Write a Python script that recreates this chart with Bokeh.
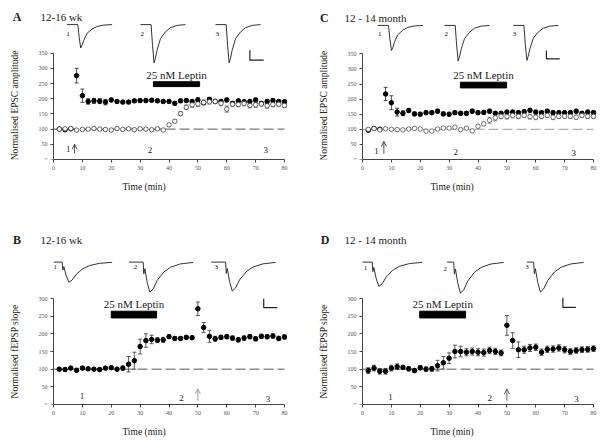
import numpy as np
from bokeh.plotting import figure
from bokeh.models import (ColumnDataSource, Whisker, TeeHead, Label, Arrow,
                          OpenHead, SingleIntervalTicker)
from bokeh.layouts import column, row
from bokeh.embed import file_html
from bokeh.resources import INLINE

SERIF = "Liberation Serif"

# ---------------- data ----------------
time_min = list(range(2, 82, 2))

# Panel A (12-16 wk, EPSC amplitude)
a_ltp = [100, 98, 101, 276, 210, 191, 193, 192, 189, 196, 191, 189, 189, 193, 194, 194, 195, 193, 191, 191,
         185, 193, 194, 191, 196, 187, 198, 191, 191, 196, 185, 193, 190, 191, 196, 185, 191, 194, 191, 190]
a_ltp_err = [3, 3, 3, 24, 22, 9, 8, 8, 9, 6, 5, 5, 5, 5, 5, 5, 5, 5, 5, 5,
             6, 5, 5, 5, 7, 5, 6, 5, 5, 6, 5, 5, 5, 5, 6, 5, 5, 5, 5, 5]
a_lep = [100, 101, 102, 97, 99, 100, 102, 100, 99, 97, 102, 99, 101, 98, 101, 100, 98, 101, 97,
         114, 126, 151, 172, 180, 183, 188, 190, 191, 185, 166, 182, 181, 184, 178, 180, 183, 177, 181, 182, 178]
a_lep_err = [3] * 19 + [4, 5, 6, 7, 8, 8, 8, 7, 7, 8, 10, 8, 7, 7, 8, 8, 7, 8, 7, 7, 7]

# Panel C (12-14 month, EPSC amplitude)
c_ltp = [97, 103, 100, 217, 188, 157, 153, 162, 151, 150, 155, 155, 160, 151, 150, 155, 153, 153, 160, 155,
         156, 160, 153, 153, 157, 157, 155, 158, 163, 157, 155, 160, 155, 155, 155, 155, 160, 153, 157, 155]
c_ltp_err = [4, 4, 4, 22, 23, 13, 8, 6, 6, 6, 6, 6, 6, 6, 6, 6, 6, 6, 6, 6,
             6, 6, 6, 6, 6, 6, 6, 6, 6, 6, 6, 6, 6, 6, 6, 6, 6, 6, 6, 6]
c_lep = [100, 102, 98, 102, 100, 99, 98, 101, 103, 101, 94, 94, 101, 104, 104, 107, 99, 104, 95,
         110, 118, 130, 138, 143, 142, 146, 143, 146, 142, 140, 143, 146, 140, 143, 143, 143, 140, 146, 143, 143]
c_lep_err = [4] * 19 + [5, 6, 10, 10, 8, 8, 8, 7, 7, 8, 8, 8, 7, 8, 7, 7, 7, 7, 7, 7, 7]

# Panel B (12-16 wk, fEPSP slope)
b_slope = [100, 99, 103, 97, 103, 101, 100, 99, 103, 104, 100, 103, 114, 124, 164, 181, 184, 182, 183, 192,
           187, 187, 190, 189, 271, 218, 193, 186, 190, 192, 188, 183, 188, 192, 186, 193, 192, 194, 187, 191]
b_slope_err = [4, 4, 4, 4, 4, 4, 4, 4, 4, 4, 4, 6, 22, 24, 21, 19, 12, 7, 7, 5,
               5, 5, 5, 5, 19, 14, 17, 7, 6, 6, 6, 6, 6, 6, 6, 6, 6, 6, 6, 6]

# Panel D (12-14 month, fEPSP slope)
d_slope = [96, 103, 94, 94, 103, 107, 105, 101, 96, 104, 100, 101, 110, 118, 131, 150, 150, 148, 150, 148,
           147, 153, 150, 146, 224, 181, 155, 155, 160, 162, 148, 156, 157, 160, 155, 150, 153, 155, 156, 158]
d_slope_err = [8, 8, 8, 8, 8, 8, 6, 6, 6, 6, 6, 7, 15, 18, 15, 18, 15, 10, 10, 10,
               10, 9, 9, 8, 28, 22, 22, 10, 10, 9, 9, 9, 9, 9, 9, 8, 8, 8, 8, 8]

baseline_x = [0, 80]
baseline_y = [100, 100]

leptin_label = "25 nM Leptin"
leptin_A = [34.6, 50.6]
leptin_C = [33.9, 49.9]
leptin_B = [20.0, 35.7]
leptin_D = [19.8, 35.7]

arrow_time_AC = [7.3, 7.4]
arrow_time_BD = [50.0, 50.0]

# example-trace waveforms (time offset, fraction of peak)
epsc_dt = [0, 3.7, 4.2, 4.73, 5.2, 5.77, 6.93, 8.66, 10.4, 12.7, 15.6]
epsc_frac = [0, 0, -0.55, -1, -0.88, -0.67, -0.37, -0.19, -0.08, -0.02, 0]
fepsp_dt = [0, 0.23, 0.58, 1.39, 2.31, 3.46, 4.85, 7.16, 9.47, 12.9, 17.3]
fepsp_frac = [0, -0.39, -0.22, -0.67, -1.0, -0.89, -0.61, -0.33, -0.17, -0.06, -0.01]

trace_amp_A = [77, 126, 126]
trace_amp_C = [83, 118, 116]
trace_amp_B = [57, 85, 82]
trace_amp_D = [69, 88, 85]

PX_PER_MIN = 2.8875
AX = "#444444"


def base_fig(w, h, left, right, bottom, y_px, y_max, ylabel, ylab_x, ylab_y):
    frame_w = w - right
    x0 = -left / PX_PER_MIN
    x1 = x0 + frame_w / PX_PER_MIN
    frame_h = h - bottom
    p = figure(width=w, height=h, x_range=(x0, x1), y_range=(0, frame_h / y_px),
               output_backend="svg", toolbar_location=None, tools="")
    p.min_border_left = 0
    p.min_border_right = right
    p.min_border_top = 0
    p.min_border_bottom = bottom
    p.outline_line_color = None
    p.grid.visible = False
    p.background_fill_color = "white"
    p.border_fill_color = "white"
    p.yaxis.fixed_location = 0
    for ax in (p.xaxis[0], p.yaxis[0]):
        ax.axis_line_color = AX
        ax.axis_line_width = 1
        ax.major_tick_line_color = AX
        ax.major_tick_out = 3
        ax.major_tick_in = 0
        ax.minor_tick_line_color = None
        ax.major_label_text_font = SERIF
        ax.major_label_text_font_size = "6px"
        ax.major_label_text_color = "#555555"
        ax.major_label_standoff = 2
    p.xaxis.ticker = SingleIntervalTicker(interval=10)
    p.xaxis.bounds = (0, 80)
    p.yaxis.ticker = SingleIntervalTicker(interval=50)
    p.yaxis.bounds = (0, y_max)
    p.xaxis.axis_label = "Time (min)"
    p.xaxis.axis_label_text_font = SERIF
    p.xaxis.axis_label_text_font_style = "normal"
    p.xaxis.axis_label_text_font_size = "9.5px"
    p.xaxis.axis_label_standoff = 9
    p.xaxis.axis_label_text_color = "#222222"
    p.add_layout(Label(x=ylab_x, y=ylab_y, text=ylabel, angle=np.pi / 2,
                       text_align="center", text_baseline="middle",
                       text_font=SERIF, text_font_size="9.5px", text_color="#222222"))
    return p


def txt(p, x, y, s, size="9px", align="center", style="normal", base="middle", color="#222222"):
    p.add_layout(Label(x=x, y=y, text=s, text_align=align, text_baseline=base,
                       text_font=SERIF, text_font_size=size, text_font_style=style,
                       text_color=color))


def errs(p, t, v, e, color):
    src = ColumnDataSource(dict(t=t, up=[a + b for a, b in zip(v, e)], lo=[a - b for a, b in zip(v, e)]))
    p.add_layout(Whisker(source=src, base="t", upper="up", lower="lo", line_color=color, line_width=0.8,
                         upper_head=TeeHead(size=4, line_color=color, line_width=0.8),
                         lower_head=TeeHead(size=4, line_color=color, line_width=0.8)))


def common(p, letter, group, title_y, letter_x, group_x, leptin, lep_bar,
           dash_color, arrow_t, arrow_y, arrow_color, nums, scale):
    txt(p, letter_x, title_y, letter, size="12px", style="bold")
    txt(p, group_x, title_y, group, size="11px", align="left")
    p.line(baseline_x, baseline_y, line_color=dash_color, line_width=1, line_dash="10 4")
    p.quad(left=[leptin[0]], right=[leptin[1]], bottom=[lep_bar[0]], top=[lep_bar[1]],
           fill_color="black", line_color="black")
    txt(p, (leptin[0] + leptin[1]) / 2, lep_bar[1] + 3, leptin_label, size="11px", base="bottom")
    p.add_layout(Arrow(x_start=arrow_t, y_start=arrow_y[0], x_end=arrow_t, y_end=arrow_y[1],
                       line_color=arrow_color, line_width=0.8,
                       end=OpenHead(size=5, line_color=arrow_color, line_width=0.8)))
    for (nx, ny), s in zip(nums, ["1", "2", "3"]):
        txt(p, nx, ny, s, size="9px")
    sx0, sx1, sy0, sy1 = scale
    p.line([sx0, sx0, sx1], [sy1, sy0, sy0], line_color="#222222", line_width=1.2)


def epsc_traces(p, starts, base, amps, labels):
    for s, a, (lx, ly), n in zip(starts, amps, labels, ["1", "2", "3"]):
        xs = [s + d for d in epsc_dt]
        ys = [base + a * f for f in epsc_frac]
        p.line(xs, ys, line_color="#333333", line_width=1)
        txt(p, lx, ly, n, size="7px", color="#111111")


def fepsp_traces(p, flats, onsets, base, amps, labels):
    for f0, o, a, (lx, ly), n in zip(flats, onsets, amps, labels, ["1", "2", "3"]):
        xs = [f0] + [o + d for d in fepsp_dt]
        ys = [base] + [base + a * f for f in fepsp_frac]
        p.line(xs, ys, line_color="#333333", line_width=1)
        txt(p, lx, ly, n, size="7px", color="#111111")


# ---------------- Panel A ----------------
pA = base_fig(307, 227, 53, 20, 67, 0.3057, 350, "Normalised EPSC amplitude", -13.2, 178)
epsc_traces(pA, [4.7, 30.1, 56.1], 444, trace_amp_A, [(5.1, 414), (30.7, 414), (56.7, 414)])
common(pA, "A", "12-16 wk", 468, -12.6, -4.5, leptin_A, [240, 256], "#555555",
       arrow_time_AC[0], [20, 50], "#222222", [(5.1, 35), (33.4, 30), (73.5, 30)],
       [68.0, 72.8, 327, 360])
errs(pA, time_min, a_ltp, a_ltp_err, "#222222")
errs(pA, time_min, a_lep, a_lep_err, "#555555")
pA.scatter(time_min, a_ltp, marker="circle", size=4.5, fill_color="black", line_color="black")
pA.scatter(time_min, a_lep, marker="circle", size=4.5, fill_color="white", line_color="#444444", line_width=0.8)

# ---------------- Panel C ----------------
pC = base_fig(299, 227, 55, 10, 68, 0.302, 350, "Normalised EPSC amplitude", -13.5, 178)
epsc_traces(pC, [5.3, 28.4, 52.2], 444, trace_amp_C, [(6.0, 416), (29.0, 416), (52.6, 416)])
common(pC, "C", "12 - 14 month", 470, -13.2, -6.2, leptin_C, [237, 256], "#9a9a9a",
       arrow_time_AC[1], [19, 60], "#222222", [(4.85, 27), (32.3, 24), (73.2, 21)],
       [63.7, 68.3, 333, 361])
errs(pC, time_min, c_ltp, c_ltp_err, "#222222")
errs(pC, time_min, c_lep, c_lep_err, "#666666")
pC.scatter(time_min, c_ltp, marker="circle", size=4.5, fill_color="black", line_color="black")
pC.scatter(time_min, c_lep, marker="circle", size=4.5, fill_color="white", line_color="#555555", line_width=0.8)

# ---------------- Panel B ----------------
pB = base_fig(307, 219, 53, 20, 42, 0.3533, 300, "Normalised fEPSP slope", -13.2, 150)
fepsp_traces(pB, [0.1, 26.1, 54.6], [3.0, 31.05, 59.6], 403, trace_amp_B,
             [(0.6, 389), (28.4, 389), (56.4, 389)])
common(pB, "B", "12-16 wk", 467, -12.6, -4.5, leptin_B, [245, 264], "#555555",
       arrow_time_BD[0], [11, 44], "#888888", [(9.9, 23), (44.3, 19), (74.3, 16)],
       [72.8, 77.5, 274, 299])
errs(pB, time_min, b_slope, b_slope_err, "#333333")
pB.scatter(time_min, b_slope, marker="circle", size=4.5, fill_color="black", line_color="black")

# ---------------- Panel D ----------------
pD = base_fig(299, 219, 55, 10, 42, 0.3533, 300, "Normalised fEPSP slope", -13.5, 150)
fepsp_traces(pD, [0.0, 29.3, 57.0], [3.35, 31.6, 59.3], 403, trace_amp_D,
             [(1.0, 387), (28.7, 384), (57.0, 389)])
common(pD, "D", "12 - 14 month", 466, -13.0, -6.2, leptin_D, [245, 264], "#555555",
       arrow_time_BD[1], [11, 44], "#444444", [(9.7, 21), (44.1, 19), (74.1, 16)],
       [69.4, 73.9, 275, 302])
errs(pD, time_min, d_slope, d_slope_err, "#333333")
pD.scatter(time_min, d_slope, marker="circle", size=4.5, fill_color="black", line_color="black")

layout = column(row(pA, pC), row(pB, pD))
open("out.html", "w").write(file_html(layout, INLINE))
